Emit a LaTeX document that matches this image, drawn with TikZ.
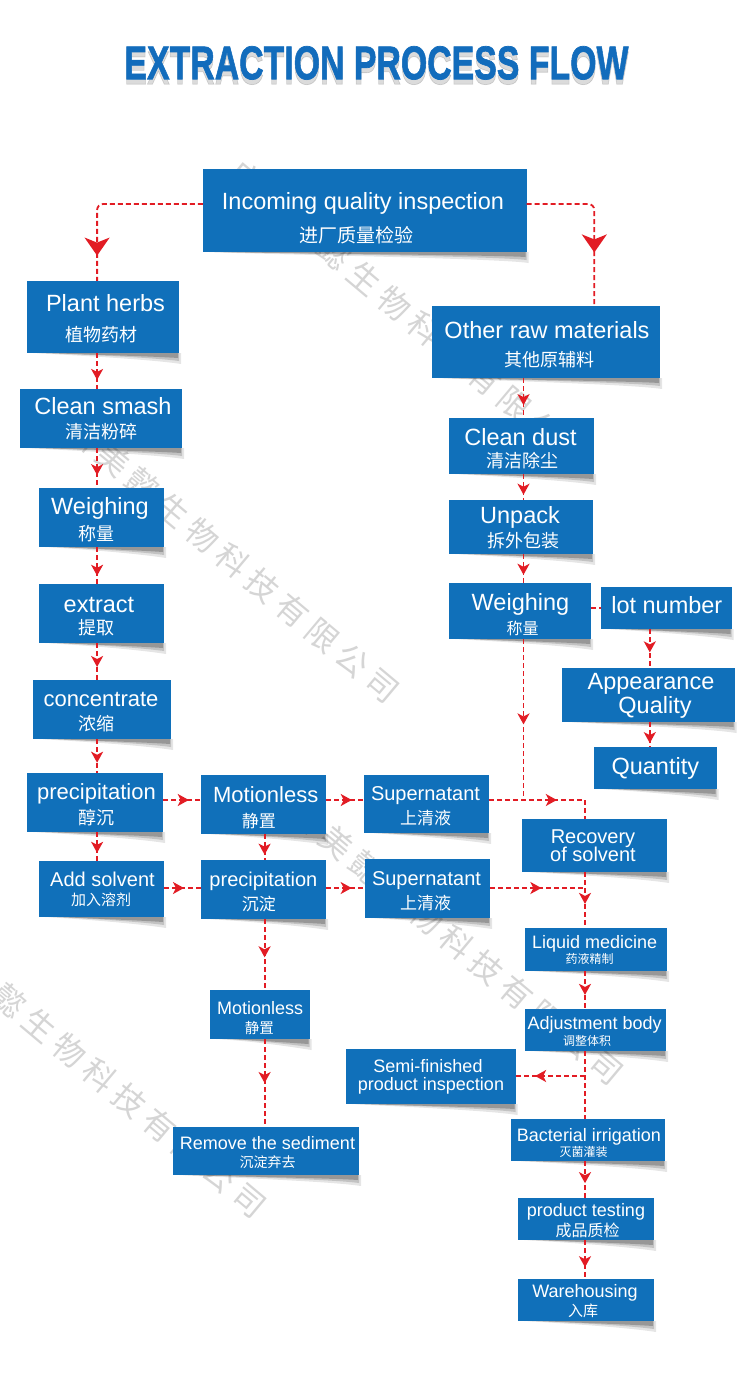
\documentclass[tikz,border=0pt]{standalone}
\usepackage{fontspec}
\setmainfont{Liberation Sans}
\newfontfamily\cjk{Noto Sans CJK SC}
\newfontfamily\titlefont[FakeBold=1.5]{Liberation Sans Bold}
\usetikzlibrary{arrows.meta,decorations.markings}
\definecolor{boxblue}{RGB}{16,112,186}
\definecolor{flowred}{RGB}{226,28,36}
\definecolor{titleblue}{RGB}{18,108,188}
\tikzset{
  box/.style={rectangle, fill=boxblue, draw=none, inner sep=0pt},
  en/.style={text=white, inner sep=0pt, anchor=base, font=\fontsize{#1pt}{#1pt}\selectfont},
  cn/.style={text=white, inner sep=0pt, anchor=base, font=\cjk\fontsize{#1pt}{#1pt}\selectfont},
  wm/.style={font=\cjk\fontsize{32pt}{32pt}\selectfont, text=gray!33, rotate=-40, inner sep=0pt},
  flow/.style={draw=flowred, line width=1.8pt, dash pattern=on 5pt off 3pt},
  midarrow/.style={postaction={decorate,decoration={markings,mark=at position #1 with {\arrow{Stealth[length=11pt,width=12pt,inset=3pt]}}}}},
  bigarrow/.style={postaction={decorate,decoration={markings,mark=at position #1 with {\arrow{Stealth[length=18pt,width=25pt,inset=5pt]}}}}}
}
\newcommand\mybox[5]{%
  \fill[black, opacity=0.10] ({#2+6},{#5}) -- ({#4+2},{#5}) -- ({#4+2},{#5+11}) .. controls ({#4-30},{#5+6}) and ({#2+40},{#5+2}) .. ({#2+6},{#5}) -- cycle;
  \fill[black, opacity=0.15] ({#2+12},{#5}) -- ({#4},{#5}) -- ({#4},{#5+8}) .. controls ({#4-30},{#5+4}) and ({#2+40},{#5+1}) .. ({#2+12},{#5}) -- cycle;
  \fill[black, opacity=0.22] ({#2+20},{#5}) -- ({#4-1},{#5}) -- ({#4-1},{#5+5}) .. controls ({#4-30},{#5+3}) and ({#2+40},{#5+1}) .. ({#2+20},{#5}) -- cycle;
  \node[box, minimum width={(#4-#2)*1pt}, minimum height={(#5-#3)*1pt}] (#1) at ({(#2+#4)/2},{(#3+#5)/2}) {};
}
\newcommand\wmark[4]{%
  \foreach \c [count=\i from 0] in {广,州,美,懿,生,物,科,技,有,限,公,司} {
    \ifnum\i<#4\relax\else
    \node[wm] (#1\i) at ({#2+\i*29.9},{#3+\i*25.1}) {\c};
    \fi
  }
}
\begin{document}
\begin{tikzpicture}[x=1pt,y=-1pt]
\useasboundingbox (0,0) rectangle (750,1400);
\fill[white] (0,0) rectangle (750,1400);
% watermarks
\begin{scope}
\clip (0,0) rectangle (750,1400);
\wmark{wa}{245.4}{177.6}{0}
\wmark{wb}{53.4}{409.6}{0}
\wmark{wc}{277}{792}{0}
\wmark{wd}{-79.7}{924.7}{3}
\end{scope}
% title
\node[anchor=north, inner sep=0pt, text=black, opacity=0.14] (tsh) at (376.5,51) {\resizebox{504pt}{33pt}{\titlefont EXTRACTION PROCESS FLOW}};
\node[anchor=north, inner sep=0pt, text=titleblue] (title) at (376.5,46) {\resizebox{504pt}{33pt}{\titlefont EXTRACTION PROCESS FLOW}};
% boxes
\mybox{inc}{203}{169}{526.5}{252}
\mybox{plant}{27}{281}{179}{353}
\mybox{other}{432}{306}{660}{378}
\mybox{smash}{20}{389}{182}{448}
\mybox{weighL}{39}{488}{164}{547}
\mybox{extract}{39}{584}{164}{643}
\mybox{conc}{33}{680}{171}{739}
\mybox{precL}{27}{773}{163}{832}
\mybox{mot1}{201}{775}{326}{834}
\mybox{sup1}{364}{775}{489}{833}
\mybox{recov}{521.5}{819}{667}{872}
\mybox{add}{39}{861}{164}{917}
\mybox{prec2}{201}{860}{326}{919}
\mybox{sup2}{365}{859}{490}{918}
\mybox{liquid}{524.5}{928}{667}{971}
\mybox{mot3}{210}{990}{309.5}{1039}
\mybox{adjust}{524.5}{1009}{666}{1051}
\mybox{semi}{345.5}{1049}{515.5}{1104}
\mybox{remove}{173}{1127}{359}{1175}
\mybox{bact}{511}{1119}{665}{1161}
\mybox{test}{518}{1198}{654}{1240}
\mybox{ware}{518}{1279}{654}{1321}
\mybox{dust}{449}{418}{594}{474}
\mybox{unpack}{449}{500}{593}{554}
\mybox{weighR}{449}{583}{591}{639}
\mybox{lot}{601}{587}{731.5}{629}
\mybox{appear}{562}{668}{734.5}{722}
\mybox{quant}{594}{747}{716.5}{789}
% texts
\node[en=23.5] (inc-e) at (363,209) {Incoming quality inspection};
\node[cn=19] (inc-c) at (356,242.2) {进厂质量检验};
\node[en=23.5] (plant-e) at (105.5,311.7) {Plant herbs};
\node[cn=18] (plant-c) at (101.5,341.8) {植物药材};
\node[en=23.5] (other-e) at (547,338) {Other raw materials};
\node[cn=18] (other-c) at (549,366.8) {其他原辅料};
\node[en=23.5] (smash-e) at (103,414) {Clean smash};
\node[cn=18] (smash-c) at (101,438.3) {清洁粉碎};
\node[en=23.5] (weighL-e) at (100,514) {Weighing};
\node[cn=18] (weighL-c) at (96.5,540.3) {称量};
\node[en=23.5] (extract-e) at (99,612) {extract};
\node[cn=18] (extract-c) at (96.5,634.8) {提取};
\node[en=22] (conc-e) at (101,706) {concentrate};
\node[cn=18] (conc-c) at (96,730.3) {浓缩};
\node[en=22] (precL-e) at (96.5,799) {precipitation};
\node[cn=18] (precL-c) at (96,824.3) {醇沉};
\node[en=22] (mot1-e) at (265.7,802) {Motionless};
\node[cn=17] (mot1-c) at (258.8,827) {静置};
\node[en=20] (sup1-e) at (425.5,800) {Supernatant};
\node[cn=17] (sup1-c) at (425.5,824.5) {上清液};
\node[en=20] (recov-e) at (593,843.3) {Recovery};
\node[en=20] (recov-f) at (593,861.7) {of solvent};
\node[en=20] (add-e) at (102.5,886) {Add solvent};
\node[cn=15] (add-c) at (101,905.4) {加入溶剂};
\node[en=20] (prec2-e) at (263.4,886) {precipitation};
\node[cn=17] (prec2-c) at (258.8,910.5) {沉淀};
\node[en=20] (sup2-e) at (426.5,885) {Supernatant};
\node[cn=17] (sup2-c) at (425.5,909.5) {上清液};
\node[en=18] (liquid-e) at (594.6,948.3) {Liquid medicine};
\node[cn=12] (liquid-c) at (589.7,963.6) {药液精制};
\node[en=18] (mot3-e) at (260.2,1014) {Motionless};
\node[cn=14.5] (mot3-c) at (259.3,1033.5) {静置};
\node[en=18] (adjust-e) at (594.6,1029.3) {Adjustment body};
\node[cn=12] (adjust-c) at (587.2,1045.1) {调整体积};
\node[en=18] (semi-e) at (428,1072.3) {Semi-finished};
\node[en=18] (semi-f) at (431,1090) {product inspection};
\node[en=18] (remove-e) at (267.5,1149.5) {Remove the sediment};
\node[cn=14] (remove-c) at (267.5,1167.8) {沉淀弃去};
\node[en=18] (bact-e) at (589,1141.7) {Bacterial irrigation};
\node[cn=12] (bact-c) at (583.5,1156.3) {灭菌灌装};
\node[en=18] (test-e) at (586,1216.7) {product testing};
\node[cn=16] (test-c) at (587.5,1236.1) {成品质检};
\node[en=18] (ware-e) at (585,1297.3) {Warehousing};
\node[cn=15] (ware-c) at (583,1316.4) {入库};
\node[en=23.5] (dust-e) at (520.5,445) {Clean dust};
\node[cn=18] (dust-c) at (522.5,467.8) {清洁除尘};
\node[en=23.5] (unpack-e) at (520,523.3) {Unpack};
\node[cn=18] (unpack-c) at (523,547.3) {拆外包装};
\node[en=23.5] (weighR-e) at (520.5,610) {Weighing};
\node[cn=16] (weighR-c) at (522.5,634.8) {称量};
\node[en=23.5] (lot-e) at (666.8,613.3) {lot number};
\node[en=23.5] (appear-e) at (651,689.3) {Appearance};
\node[en=23.5] (appear-f) at (655,713.3) {Quality};
\node[en=23.5] (quant-e) at (655.3,774.3) {Quantity};
% helper coordinates
\coordinate (ry) at (0,204);
\coordinate (cL) at (97.1,0);
\coordinate (cO) at (594.3,0);
\coordinate (cR) at (523.5,0);
\coordinate (cM) at (264.6,0);
\coordinate (cA) at (649.8,0);
\coordinate (cS) at (585,0);
\coordinate (r1) at (0,800);
\coordinate (r2) at (0,888);
\coordinate (rl) at (0,608);
\coordinate (j1) at (523.5,800);
\coordinate (j2) at (585,888);
\coordinate (j3) at (585,1076);
% connectors
\draw[flow, rounded corners=6pt, bigarrow=0.86] (inc.west |- ry) -| (plant.north -| cL);
\draw[flow, rounded corners=6pt, bigarrow=0.68] (inc.east |- ry) -| (other.north -| cO);
\draw[flow, midarrow=0.75] (plant.south -| cL) -- (smash.north -| cL);
\draw[flow, midarrow=0.68] (smash.south -| cL) -- (weighL.north -| cL);
\draw[flow, midarrow=0.78] (weighL.south -| cL) -- (extract.north -| cL);
\draw[flow, midarrow=0.65] (extract.south -| cL) -- (conc.north -| cL);
\draw[flow, midarrow=0.7] (conc.south -| cL) -- (precL.north -| cL);
\draw[flow, midarrow=0.72] (precL.south -| cL) -- (add.north -| cL);
\draw[flow, midarrow=0.68] (precL.east |- r1) -- (mot1.west |- r1);
\draw[flow, midarrow=0.68] (mot1.east |- r1) -- (sup1.west |- r1);
\draw[flow, midarrow=0.8] (mot1.south -| cM) -- (prec2.north -| cM);
\draw[flow, midarrow=0.54] (add.east |- r2) -- (prec2.west |- r2);
\draw[flow, midarrow=0.66] (prec2.east |- r2) -- (sup2.west |- r2);
\draw[flow, midarrow=0.54] (prec2.south -| cM) -- (mot3.north -| cM);
\draw[flow, midarrow=0.5] (mot3.south -| cM) -- (remove.north -| cM);
\draw[flow, midarrow=0.68] (other.south -| cR) -- (dust.north -| cR);
\draw[flow, midarrow=0.8] (dust.south -| cR) -- (unpack.north -| cR);
\draw[flow, midarrow=0.72] (unpack.south -| cR) -- (weighR.north -| cR);
\draw[flow] (weighR.east |- rl) -- (lot.west |- rl);
\draw[flow, midarrow=0.6] (lot.south -| cA) -- (appear.north -| cA);
\draw[flow, midarrow=0.85] (appear.south -| cA) -- (quant.north -| cA);
\draw[flow, midarrow=0.53] (weighR.south -| cR) -- (j1);
\draw[flow, midarrow=0.59] (sup1.east |- r1) -| (recov.north -| cS);
\draw[flow, midarrow=0.54] (sup2.east |- r2) -- (j2);
\draw[flow, midarrow=0.57] (recov.south -| cS) -- (liquid.north -| cS);
\draw[flow, midarrow=0.63] (liquid.south -| cS) -- (adjust.north -| cS);
\draw[flow] (adjust.south -| cS) -- (bact.north -| cS);
\draw[flow, midarrow=0.72] (j3) -- (semi.east |- j3);
\draw[flow, midarrow=0.6] (bact.south -| cS) -- (test.north -| cS);
\draw[flow, midarrow=0.7] (test.south -| cS) -- (ware.north -| cS);
\end{tikzpicture}
\end{document}
